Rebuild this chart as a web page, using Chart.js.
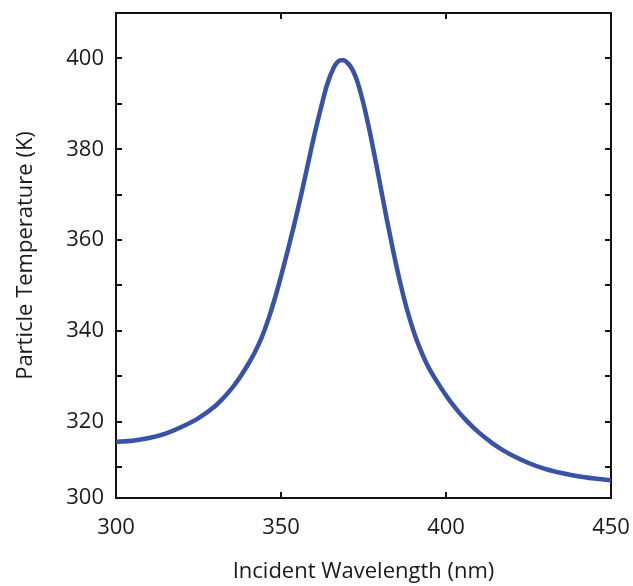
<!DOCTYPE html>
<html><head><meta charset="utf-8">
<script src="https://cdn.jsdelivr.net/npm/chart.js@4.4.0/dist/chart.umd.min.js"></script>
<style>html,body{margin:0;padding:0;background:#fff}#wrap{width:633px;height:586px}</style>
</head><body><div id="wrap"><canvas id="c" width="633" height="586"></canvas></div>
<script>
const wavelengths = [300,305,310,315,320,325,330,332,334,336,338,340,342,344,346,348,350,352,354,356,358,360,362,364,366,367,368,369,370,371,372,373,374,375,376,377,378,379,380,382,384,386,388,390,392,394,396,398,400,402,404,406,408,410,412,414,416,418,420,425,430,435,440,445,450];
const temperatures = [315.6,315.8,316.4,317.4,318.9,320.8,323.4,324.8,326.4,328.2,330.3,332.6,335.2,338.3,342.2,346.8,352.0,357.6,363.4,369.6,376.2,382.8,388.8,394.3,398.0,399.1,399.6,399.6,399.1,398.3,397.0,395.2,392.8,390.0,386.9,383.5,379.9,376.2,372.4,364.8,357.6,351.0,345.2,340.3,336.3,333.0,330.3,328.0,325.8,323.8,322.0,320.4,318.9,317.6,316.4,315.3,314.3,313.4,312.6,310.9,309.6,308.7,308.0,307.5,307.1];
const xMin = 300, xMax = 450, xStep = 50;
const xTickMarks = [350, 400];
const yMin = 303.2, yMax = 410;
const yLabelValues = [303.2, 320, 340, 360, 380, 400];
const yTickLabels = ['300', '320', '340', '360', '380', '400'];
const yTickMarks = [310, 320, 330, 340, 350, 360, 370, 380, 390, 400];

const FONT = {family: "'Open Sans', 'Noto Sans', sans-serif", size: 22};

const frameTicks = {
  id: 'frameTicks',
  beforeDatasetsDraw(chart) {
    const {ctx, chartArea: {left, right, top, bottom}, scales: {x, y}} = chart;
    ctx.save();
    ctx.strokeStyle = '#111';
    ctx.lineWidth = 2;
    ctx.strokeRect(left, top, right - left, bottom - top);
    ctx.beginPath();
    xTickMarks.forEach(v => {
      const px = Math.round(x.getPixelForValue(v));
      ctx.moveTo(px, bottom); ctx.lineTo(px, bottom - 6);
      ctx.moveTo(px, top); ctx.lineTo(px, top + 6);
    });
    yTickMarks.forEach(v => {
      const py = Math.round(y.getPixelForValue(v));
      ctx.moveTo(left, py); ctx.lineTo(left + 6, py);
      ctx.moveTo(right, py); ctx.lineTo(right - 6, py);
    });
    ctx.stroke();
    ctx.restore();
  }
};

new Chart(document.getElementById('c'), {
  type: 'line',
  data: {
    datasets: [{
      data: wavelengths.map((w, i) => ({x: w, y: temperatures[i]})),
      borderColor: '#3852a6',
      borderWidth: 4.5,
      pointRadius: 0,
      cubicInterpolationMode: 'monotone',
      fill: false
    }]
  },
  options: {
    responsive: false,
    animation: false,
    layout: {padding: {top: 13, right: 22, left: 0, bottom: 0}},
    plugins: {legend: {display: false}, tooltip: {enabled: false}},
    scales: {
      x: {
        type: 'linear', min: xMin, max: xMax,
        afterFit: s => { s.height = 88; s.paddingLeft = 0; s.paddingRight = 0; },
        grid: {display: false, drawTicks: false},
        border: {display: false},
        ticks: {stepSize: xStep, color: '#1a1a1a', font: FONT, padding: 17, maxRotation: 0},
        title: {display: true, text: 'Incident Wavelength (nm)', color: '#1a1a1a', font: FONT, padding: {top: 4, bottom: 1}}
      },
      y: {
        type: 'linear', min: yMin, max: yMax,
        afterFit: s => { s.width = 116; s.paddingTop = 0; s.paddingBottom = 0; },
        afterBuildTicks: s => { s.ticks = yLabelValues.map(v => ({value: v})); },
        grid: {display: false, drawTicks: false},
        border: {display: false},
        ticks: {color: '#1a1a1a', font: FONT, padding: 12, callback: (v, i) => yTickLabels[i]},
        title: {display: true, text: 'Particle Temperature (K)', color: '#1a1a1a', font: FONT, padding: {top: 13, bottom: 0}}
      }
    }
  },
  plugins: [frameTicks]
});
</script>
</body></html>
